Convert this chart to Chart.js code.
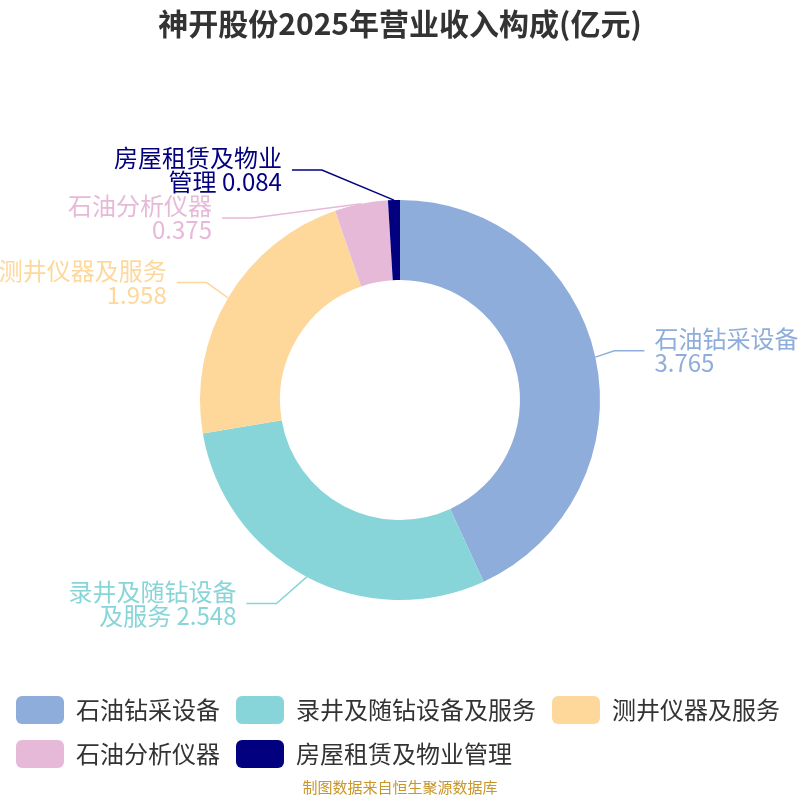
<!DOCTYPE html>
<html>
<head>
<meta charset="utf-8">
<title>神开股份2025年营业收入构成</title>
<script src="https://cdn.jsdelivr.net/npm/chart.js@4.4.1/dist/chart.umd.min.js"></script>
<style>
  html, body { margin: 0; padding: 0; background: #fff; }
  #wrap { width: 800px; height: 800px; }
</style>
</head>
<body>
<div id="wrap"><canvas id="revenueChart"></canvas></div>
<script>
// 营业收入构成 (亿元)
const categories = ['石油钻采设备', '录井及随钻设备及服务', '测井仪器及服务', '石油分析仪器', '房屋租赁及物业管理'];
const revenue = [3.765, 2.548, 1.958, 0.375, 0.084];
const sliceColors = ['#8eaddb', '#87d5d8', '#fed89b', '#e7b9d9', '#02007f'];

const FONT = "'Noto Sans CJK SC', 'Noto Sans', sans-serif";

// wrap "name value" the way the original labels break (CJK per char, numbers whole)
function wrapLabel(ctx, text, maxWidth) {
    const tokens = text.match(/[A-Za-z0-9.]+|\s|./g);
    const lines = [];
    let line = '';
    tokens.forEach(t => {
        const test = line + t;
        if (line.trim() && ctx.measureText(test).width > maxWidth) {
            lines.push(line.trim());
            line = t.trim();
        } else {
            line = test;
        }
    });
    if (line.trim()) lines.push(line.trim());
    return lines;
}

// outside labels with leader lines
const outerLabels = {
    id: 'outerLabels',
    afterDatasetsDraw(chart) {
        const ctx = chart.ctx;
        const arcs = chart.getDatasetMeta(0).data;
        const ds = chart.data.datasets[0];
        ctx.save();
        ctx.font = '24px ' + FONT;

        const items = arcs.map((arc, i) => {
            const mid = (arc.startAngle + arc.endAngle) / 2;
            const R = arc.outerRadius;
            const cos = Math.cos(mid), sin = Math.sin(mid);
            return {
                i: i, cx: arc.x, cy: arc.y, R: R,
                px: arc.x + cos * R,
                py: arc.y + sin * R,
                y: arc.y + sin * (R + 30),
                dir: cos >= 0 ? 1 : -1,
                lines: wrapLabel(ctx, chart.data.labels[i] + ' ' + ds.data[i], 170)
            };
        });

        [1, -1].forEach(dir => {
            const side = items.filter(it => it.dir === dir).sort((a, b) => a.y - b.y);
            if (!side.length) return;
            for (let k = 1; k < side.length; k++) {
                if (side[k].y - side[k - 1].y < 48) side[k].y = side[k - 1].y + 48;
            }
            const rA = side[0].R + 20;
            const maxDy = Math.max(...side.map(it => Math.abs(it.y - it.cy)));
            const rB = Math.max(rA, maxDy + 16);
            side.forEach(it => {
                const dy = it.y - it.cy;
                const dx = rA * Math.sqrt(Math.max(0, 1 - dy * dy / (rB * rB)));
                it.ex = it.cx + dir * dx;
                it.lx = it.ex + dir * 30;
            });
        });

        items.forEach(it => {
            const color = ds.backgroundColor[it.i];
            ctx.strokeStyle = color;
            ctx.lineWidth = 1.5;
            ctx.beginPath();
            ctx.moveTo(it.px, it.py);
            ctx.lineTo(it.ex, it.y);
            ctx.lineTo(it.lx, it.y);
            ctx.stroke();

            ctx.fillStyle = color;
            ctx.textAlign = it.dir > 0 ? 'left' : 'right';
            ctx.textBaseline = 'middle';
            const tx = it.lx + it.dir * 10;
            const lh = 24;
            const y0 = it.y - (it.lines.length - 1) * lh / 2;
            it.lines.forEach((ln, k) => ctx.fillText(ln, tx, y0 + k * lh));
        });
        ctx.restore();
    }
};

new Chart(document.getElementById('revenueChart'), {
    type: 'doughnut',
    data: {
        labels: categories,
        datasets: [{
            data: revenue,
            backgroundColor: sliceColors,
            borderWidth: 0
        }]
    },
    options: {
        responsive: true,
        maintainAspectRatio: false,
        animation: false,
        radius: 200,
        cutout: '60%',
        plugins: {
            title: {
                display: true,
                text: '神开股份2025年营业收入构成(亿元)',
                color: '#333',
                font: { family: FONT, size: 30, weight: 'bold' },
                padding: { top: 6, bottom: 78 }
            },
            subtitle: {
                display: true,
                position: 'bottom',
                text: '制图数据来自恒生聚源数据库',
                color: '#c8962a',
                font: { family: FONT, size: 15 },
                padding: { top: 0, bottom: 4 }
            },
            legend: {
                position: 'bottom',
                align: 'start',
                labels: {
                    boxWidth: 48,
                    boxHeight: 28,
                    useBorderRadius: true,
                    borderRadius: 6,
                    padding: 16,
                    color: '#333',
                    font: { family: FONT, size: 24 }
                }
            },
            tooltip: { enabled: false }
        }
    },
    plugins: [outerLabels]
});
</script>
</body>
</html>
